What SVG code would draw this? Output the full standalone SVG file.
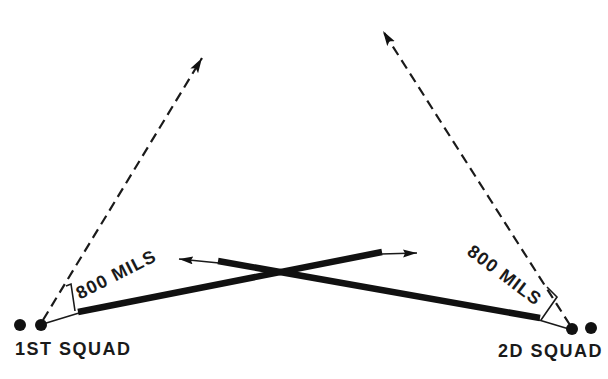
<svg xmlns="http://www.w3.org/2000/svg" width="608" height="379" viewBox="0 0 608 379">
<style>
.lbl{font-family:"Liberation Sans",Arial,sans-serif;font-weight:bold;font-size:18px;fill:#1a1a1a;letter-spacing:1.5px}
.mils{font-family:"Liberation Sans",Arial,sans-serif;font-weight:bold;font-size:18px;fill:#1a1a1a;letter-spacing:1.2px}
.dash{fill:none;stroke:#1a1a1a;stroke-width:2.2;stroke-dasharray:10 6}
.thin{fill:none;stroke:#1a1a1a;stroke-width:1.6}
.bar{fill:none;stroke:#111;stroke-width:6.5;stroke-linecap:butt}
.dot{fill:#111}
</style>
<defs>
<marker id="bigArrow" markerUnits="userSpaceOnUse" markerWidth="18" markerHeight="12" refX="15" refY="4.5" orient="auto">
<path d="M0,0 L15,4.5 L0,9 L3,4.5 z" fill="#111"/>
</marker>
<marker id="smallArrow" markerUnits="userSpaceOnUse" markerWidth="16" markerHeight="10" refX="14" refY="4" orient="auto">
<path d="M0,0 L14,4 L0,8 L2,4 z" fill="#111"/>
</marker>
</defs>
<rect width="608" height="379" fill="#fff"/>
<g id="connectors">
<line class="dash" x1="43" y1="320" x2="202" y2="58" marker-end="url(#bigArrow)"/>
<line class="dash" x1="570" y1="325" x2="383" y2="31" marker-end="url(#bigArrow)"/>
<line class="thin" x1="43" y1="324" x2="79" y2="313"/>
<line class="bar" x1="78" y1="312" x2="382" y2="252"/>
<line class="thin" x1="381" y1="254" x2="417" y2="253" marker-end="url(#smallArrow)"/>
<line class="thin" x1="569" y1="329" x2="539" y2="320"/>
<line class="bar" x1="540" y1="318" x2="218" y2="261"/>
<line class="thin" x1="219" y1="263" x2="179" y2="259" marker-end="url(#smallArrow)"/>
</g>
<g id="squad1">
<circle class="dot" cx="20" cy="325" r="6"/>
<circle class="dot" cx="41" cy="325" r="6"/>
<text class="lbl" x="15" y="355">1ST SQUAD</text>
</g>
<g id="squad2">
<circle class="dot" cx="572" cy="329" r="6"/>
<circle class="dot" cx="591" cy="328" r="6"/>
<text class="lbl" x="498" y="357">2D SQUAD</text>
</g>
<g id="mils1">
<polyline class="thin" points="66,286 71,284 75,311"/>
<text class="mils" text-anchor="middle" transform="translate(116,274) rotate(-27)" y="6.5">800 MILS</text>
</g>
<g id="mils2">
<polyline class="thin" points="547,287 557,297 541,320"/>
<text class="mils" text-anchor="middle" transform="translate(505,275) rotate(37)" y="6.5">800 MILS</text>
</g>
</svg>
